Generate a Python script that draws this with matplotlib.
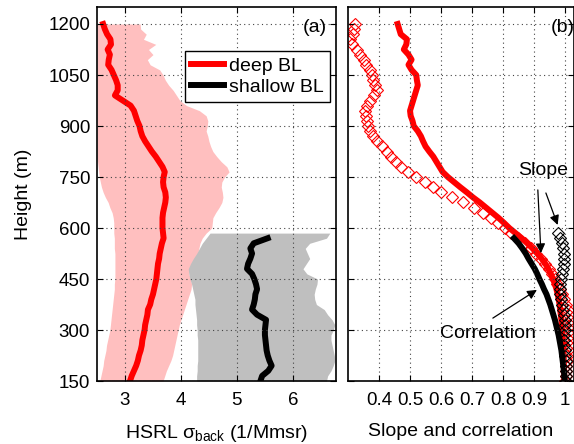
import numpy as np
import matplotlib
matplotlib.use("Agg")
import matplotlib.pyplot as plt

plt.rcParams['font.family'] = ['Liberation Sans', 'DejaVu Sans']
plt.rcParams['mathtext.fontset'] = 'custom'
plt.rcParams['mathtext.rm'] = 'Liberation Sans'
plt.rcParams['mathtext.it'] = 'Liberation Sans:italic'

# heights (m), top to bottom
h_deep = np.arange(1200, 149, -15)
h_shal = np.arange(585, 149, -15)
h_shal_line = np.arange(570, 149, -15)

# deep BL backscatter: mean, lower and upper envelope
deep_mean = [2.61, 2.64, 2.68, 2.74, 2.75, 2.69, 2.73, 2.71, 2.70, 2.76, 2.80, 2.84, 2.87, 2.87,
             2.82, 2.96, 3.10, 3.16, 3.19, 3.22, 3.26, 3.28, 3.31, 3.36, 3.42, 3.48, 3.55, 3.61,
             3.67, 3.71, 3.69, 3.68, 3.69, 3.72, 3.73, 3.72, 3.70, 3.68, 3.67, 3.67, 3.67, 3.68,
             3.69, 3.66, 3.64, 3.62, 3.61, 3.59, 3.58, 3.57, 3.56, 3.54, 3.52, 3.50, 3.47, 3.45,
             3.41, 3.40, 3.38, 3.36, 3.35, 3.33, 3.31, 3.30, 3.28, 3.25, 3.23, 3.20, 3.16, 3.12, 3.09]
deep_lo = [2.50] * 27 + [2.51, 2.52, 2.53, 2.54, 2.56, 2.58, 2.61, 2.65, 2.70, 2.73, 2.77, 2.79,
             2.80, 2.80, 2.80, 2.81, 2.81, 2.81, 2.82, 2.82, 2.82, 2.82, 2.82, 2.82, 2.81, 2.81,
             2.80, 2.79, 2.78, 2.77, 2.76, 2.75, 2.74, 2.73, 2.71, 2.69, 2.67, 2.66, 2.64, 2.62,
             2.61, 2.59, 2.57, 2.55]
deep_hi = [3.27, 3.28, 3.38, 3.33, 3.55, 3.42, 3.50, 3.40, 3.45, 3.62, 3.68, 3.72, 3.78, 3.86,
           3.92, 3.98, 4.10, 4.33, 4.45, 4.48, 4.47, 4.45, 4.48, 4.50, 4.53, 4.57, 4.64, 4.72,
           4.82, 4.86, 4.78, 4.73, 4.72, 4.74, 4.75, 4.73, 4.68, 4.62, 4.57, 4.56, 4.55, 4.45,
           4.38, 4.34, 4.32, 4.30, 4.26, 4.20, 4.15, 4.14, 4.17, 4.19, 4.18, 4.15, 4.12, 4.09,
           4.06, 4.03, 4.00, 3.97, 3.95, 3.93, 3.91, 3.89, 3.87, 3.85, 3.82, 3.78, 3.74, 3.71, 3.68]

# shallow BL backscatter
shal_mean = [5.55, 5.30, 5.24, 5.27, 5.24, 5.20, 5.18, 5.27, 5.31, 5.34, 5.36, 5.33, 5.32, 5.30,
             5.27, 5.36, 5.52, 5.51, 5.50, 5.50, 5.51, 5.52, 5.53, 5.55, 5.58, 5.62, 5.56, 5.45, 5.42]
shal_lo = [4.52, 4.45, 4.38, 4.33, 4.28, 4.22, 4.17, 4.13, 4.14, 4.16, 4.19, 4.21, 4.23, 4.25,
           4.25, 4.26, 4.27, 4.28, 4.28, 4.29, 4.29, 4.30, 4.30, 4.30, 4.30, 4.30, 4.29, 4.29,
           4.28, 4.28]
shal_hi = [6.66, 6.60, 6.30, 6.22, 6.26, 6.30, 6.24, 6.18, 6.25, 6.44, 6.43, 6.40, 6.38, 6.39,
           6.42, 6.56, 6.62, 6.70, 6.75, 6.72, 6.68, 6.68, 6.70, 6.72, 6.74, 6.75, 6.72, 6.68,
           6.62, 6.60]

# panel (b): correlation (lines) and slope (diamonds)
deep_corr = [0.460, 0.465, 0.470, 0.490, 0.488, 0.480, 0.495, 0.505, 0.495, 0.505, 0.520, 0.522,
             0.525, 0.520, 0.515, 0.510, 0.505, 0.500, 0.502, 0.508, 0.512, 0.525, 0.535, 0.542,
             0.550, 0.562, 0.575, 0.585, 0.595, 0.605, 0.622, 0.642, 0.662, 0.683, 0.703, 0.725,
             0.745, 0.765, 0.785, 0.803, 0.820, 0.840, 0.860, 0.878, 0.895, 0.910, 0.924, 0.936,
             0.946, 0.954, 0.961, 0.967, 0.972, 0.976, 0.979, 0.982, 0.984, 0.986, 0.988, 0.989,
             0.990, 0.991, 0.992, 0.993, 0.994, 0.995, 0.996, 0.996, 0.997, 0.997, 0.998]
deep_slope = [0.322, 0.318, 0.315, 0.308, 0.312, 0.328, 0.340, 0.350, 0.358, 0.370, 0.378, 0.382,
              0.388, 0.395, 0.385, 0.372, 0.362, 0.356, 0.358, 0.362, 0.366, 0.372, 0.380, 0.395,
              0.410, 0.425, 0.440, 0.455, 0.470, 0.495, 0.520, 0.548, 0.575, 0.600, 0.635, 0.670,
              0.705, 0.735, 0.760, 0.785, 0.805, 0.825, 0.848, 0.870, 0.890, 0.907, 0.922, 0.935,
              0.947, 0.957, 0.966, 0.974, 0.982, 0.990, 0.997, 1.003, 1.008, 1.012, 1.015, 1.016,
              1.016, 1.015, 1.013, 1.011, 1.009, 1.007, 1.006, 1.004, 1.003, 1.002, 1.000]
shal_corr = [0.835, 0.850, 0.862, 0.873, 0.882, 0.892, 0.902, 0.910, 0.917, 0.925, 0.932, 0.940,
             0.946, 0.952, 0.957, 0.962, 0.967, 0.971, 0.975, 0.979, 0.982, 0.985, 0.988, 0.990,
             0.992, 0.994, 0.996, 0.998, 0.999]
shal_slope = [0.977, 0.985, 0.990, 0.993, 0.996, 0.997, 0.996, 0.994, 0.990, 0.986, 0.984, 0.983,
              0.985, 0.988, 0.990, 0.992, 0.995, 0.998, 1.000, 0.998, 0.996, 0.995, 0.996, 0.998,
              1.000, 1.002, 1.003, 1.004, 1.004, 1.003]

fig = plt.figure(figsize=(5.74, 4.44), dpi=100)
ax1 = fig.add_axes([97/574, 63/444, 239/574, 374/444])
ax2 = fig.add_axes([348/574, 63/444, 225.5/574, 374/444])

fs = 14
grid_kw = dict(color='#444444', linestyle=(0, (1, 3)), linewidth=0.8)

# panel (a)
ax1.fill_betweenx(h_deep, deep_lo, deep_hi, color='#ffbfbf', lw=0)
ax1.fill_betweenx(h_shal, shal_lo, shal_hi, color='#bfbfbf', lw=0)
ax1.plot(deep_mean, h_deep, color='#ff0000', lw=4.3, label='deep BL')
ax1.plot(shal_mean, h_shal_line, color='k', lw=4.3, label='shallow BL')
ax1.set_xlim(2.5, 6.77)
ax1.set_xticks([3, 4, 5, 6])
ax1.set_xlabel(r'HSRL σ$_{\rm back}$ (1/Mmsr)', fontsize=fs, labelpad=10)
ax1.set_ylabel('Height (m)', fontsize=fs, labelpad=12)
ax1.set_yticks(np.arange(150, 1201, 150))
leg = ax1.legend(loc='upper right', bbox_to_anchor=(0.975, 0.882), borderaxespad=0,
                 fontsize=fs, fancybox=False, framealpha=1, edgecolor='k',
                 handlelength=1.7, handletextpad=0.3, borderpad=0.3, labelspacing=0.2)
leg.get_frame().set_linewidth(1.0)
ax1.text(0.912, 0.944, '(a)', transform=ax1.transAxes, fontsize=fs, ha='center', va='center')

# panel (b)
ax2.plot(deep_corr, h_deep, color='#ff0000', lw=4.3)
ax2.plot(deep_slope, h_deep, 'D', color='#ff0000', mfc='none', ms=6.3, mew=0.8)
ax2.plot(shal_corr, h_shal_line, color='k', lw=4.3)
ax2.plot(shal_slope, h_shal, 'D', color='k', mfc='none', ms=6.3, mew=0.8)
ax2.set_xlim(0.3, 1.027)
ax2.set_xticks([0.4, 0.5, 0.6, 0.7, 0.8, 0.9, 1.0])
ax2.set_xticklabels(['0.4', '0.5', '0.6', '0.7', '0.8', '0.9', '1'])
ax2.set_yticks(np.arange(150, 1201, 150))
ax2.set_yticklabels([])
ax2.set_xlabel('Slope and correlation', fontsize=fs, labelpad=10)
ax2.text(0.951, 0.944, '(b)', transform=ax2.transAxes, fontsize=fs, ha='center', va='center')

arrow = dict(arrowstyle='-|>', color='k', lw=0.9, mutation_scale=14, shrinkA=0, shrinkB=0)
ax2.text(0.928, 770, 'Slope', fontsize=fs, ha='center', va='center')
ax2.annotate('', xy=(0.922, 526), xytext=(0.912, 712), arrowprops=arrow)
ax2.annotate('', xy=(0.976, 609), xytext=(0.938, 703), arrowprops=arrow)
ax2.text(0.75, 291, 'Correlation', fontsize=fs, ha='center', va='center')
ax2.annotate('', xy=(0.909, 418), xytext=(0.767, 335), arrowprops=arrow)

for ax in (ax1, ax2):
    ax.set_ylim(150, 1250)
    ax.grid(True, **grid_kw)
    ax.set_axisbelow(False)
    ax.tick_params(direction='in', top=True, right=True, length=4, width=0.8,
                   labelsize=13.5)
    ax.tick_params(axis='x', pad=8)
    ax.tick_params(axis='y', pad=5)
    for s in ax.spines.values():
        s.set_linewidth(1.2)

fig.savefig('out.png', dpi=100)
